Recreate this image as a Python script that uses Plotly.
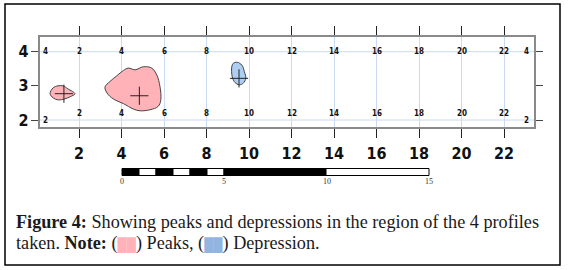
import plotly.graph_objects as go

# ---------------- data ----------------
peak1_x = [0.64, 0.78, 1.01, 1.25, 1.48, 1.81, 1.58, 1.34, 1.01, 0.78]
peak1_y = [2.77, 2.94, 3.00, 3.00, 2.91, 2.77, 2.68, 2.62, 2.59, 2.65]
peak1_center = (1.29, 2.77)

peak2_x = [3.22, 3.46, 3.77, 4.09, 4.32, 4.64, 5.03, 5.42, 5.66, 5.81, 5.85, 5.73, 5.34, 4.87, 4.56, 4.09, 3.69, 3.38]
peak2_y = [2.96, 3.13, 3.29, 3.45, 3.52, 3.47, 3.56, 3.52, 3.32, 2.98, 2.59, 2.40, 2.30, 2.27, 2.32, 2.48, 2.59, 2.74]
peak2_center = (4.84, 2.71)

dep_x = [9.19, 9.26, 9.45, 9.66, 9.78, 9.85, 9.73, 9.54, 9.34, 9.21]
dep_y = [3.56, 3.66, 3.69, 3.61, 3.42, 3.22, 3.08, 3.03, 3.10, 3.27]
dep_center = (9.53, 3.22)

x_ticks = [2, 4, 6, 8, 10, 12, 14, 16, 18, 20, 22]
y_ticks = [2, 3, 4]
grid_y = [2, 4]
inner_labels = ["2", "4", "6", "8", "10", "12", "14", "16", "18", "20", "22"]

scale_starts = [0, 5/6, 10/6, 15/6, 20/6, 25/6, 5, 10]
scale_widths = [5/6, 5/6, 5/6, 5/6, 5/6, 5/6, 5, 5]
scale_colors = ["black", "white", "black", "white", "black", "white", "black", "white"]
scale_labels = [0, 5, 10, 15]

caption_line1 = "<b>Figure 4:</b> Showing peaks and depressions in the region of the 4 profiles"
caption_line2 = ("taken. <b>Note:</b> (<span style='color:#ffb3b8;font-size:13px'>██</span>) Peaks, "
                 "(<span style='color:#94b4e0;font-size:13px'>██</span>) Depression.")

# ---------------- layout geometry ----------------
W, H = 568, 270
px_l, px_r, py_t, py_b = 39.5, 534, 37, 127
PINK = "#ffb3b8"
BLUE = "#aecdf2"
GRID = "#c9daf2"
LBL_FONT = "DejaVu Sans Condensed, Liberation Sans Narrow, Arial Narrow, sans-serif"

fig = go.Figure()

for xs, ys, col in [(peak1_x, peak1_y, PINK), (peak2_x, peak2_y, PINK), (dep_x, dep_y, BLUE)]:
    fig.add_trace(go.Scatter(x=xs + [xs[0]], y=ys + [ys[0]], mode="lines", fill="toself",
                             fillcolor=col, line=dict(color="#444", width=1, shape="spline"),
                             hoverinfo="skip", showlegend=False))

cx = [peak1_center[0], peak2_center[0], dep_center[0]]
cy = [peak1_center[1], peak2_center[1], dep_center[1]]
fig.add_trace(go.Scatter(x=cx, y=cy, mode="markers",
                         marker=dict(symbol="cross-thin", size=13, line=dict(color="#222", width=1)),
                         showlegend=False, hoverinfo="skip"))

# scale bar on secondary axes
fig.add_trace(go.Bar(y=[0.575] * len(scale_starts), x=scale_widths, base=scale_starts,
                     orientation="h", width=0.22, marker=dict(color=scale_colors, line=dict(color="black", width=1)),
                     xaxis="x2", yaxis="y2", showlegend=False, hoverinfo="skip"))

for v in grid_y:
    fig.add_shape(type="line", xref="x domain", x0=0, x1=1, yref="y", y0=v, y1=v,
                  line=dict(color=GRID, width=1), layer="below")

# inner small labels
ann = []
for xv, t in zip(x_ticks, inner_labels):
    ann.append(dict(x=xv, y=4, text=t, xref="x", yref="y", showarrow=False,
                    font=dict(family=LBL_FONT, size=8, color="#111", weight="bold")))
    ann.append(dict(x=xv, y=2.2, text=t, xref="x", yref="y", showarrow=False,
                    font=dict(family=LBL_FONT, size=8, color="#111", weight="bold")))
for xv, yv, t in [(0.4, 4, "4"), (0.4, 2, "2"), (23.08, 4, "4"), (23.08, 2, "2")]:
    ann.append(dict(x=xv, y=yv, text=t, xref="x", yref="y", showarrow=False,
                    font=dict(family=LBL_FONT, size=8, color="#111", weight="bold")))

for v in scale_labels:
    ann.append(dict(x=v, y=0.3, text=str(v), xref="x2", yref="y2", showarrow=False,
                    font=dict(family="Liberation Serif, serif", size=8, color="#333")))

ann.append(dict(x=14 / W, y=1 - 222 / H, xref="paper", yref="paper", xanchor="left", yanchor="middle",
                text=caption_line1, showarrow=False, align="left",
                font=dict(family="Liberation Serif, serif", size=18.2, color="#1a1a1a")))
ann.append(dict(x=14 / W, y=1 - 243 / H, xref="paper", yref="paper", xanchor="left", yanchor="middle",
                text=caption_line2, showarrow=False, align="left",
                font=dict(family="Liberation Serif, serif", size=18.2, color="#1a1a1a")))

fig.add_shape(type="rect", xref="paper", yref="paper", x0=5 / W, x1=560 / W, y0=1 - 265 / H, y1=1 - 4 / H,
              line=dict(color="black", width=1.5))

xpu = 21.25
x0d = (px_l - 36.5) / xpu
x1d = (px_r - 36.5) / xpu
ypu = 34.15
y_top = 4 + (py_t - 51.7) * -1 / ypu
y_bot = 2 - (py_b - 120) / ypu

s_pu = (429 - 122) / 15
s0 = -(122 - px_l) / s_pu
s1 = (px_r - 122) / s_pu

fig.update_layout(
    width=W, height=H, margin=dict(l=0, r=0, t=0, b=0, autoexpand=False),
    paper_bgcolor="white", plot_bgcolor="white",
    annotations=ann, bargap=0,
    xaxis=dict(domain=[px_l / W, px_r / W], range=[x0d, x1d], tickvals=x_ticks,
               showgrid=True, gridcolor=GRID, gridwidth=1, zeroline=False, automargin=False,
               showline=True, linecolor="#8a8a8a", linewidth=1.5, mirror="ticks",
               ticks="outside", ticklen=9, tickcolor="#222", tickwidth=1,
               ticklabelstandoff=2,
               tickfont=dict(family=LBL_FONT, size=16, color="#111", weight="bold")),
    yaxis=dict(domain=[1 - py_b / H, 1 - py_t / H], range=[y_bot, y_top], tickvals=y_ticks,
               showgrid=False, zeroline=False, automargin=False,
               showline=True, linecolor="#8a8a8a", linewidth=1.5, mirror="ticks",
               ticks="outside", ticklen=7, tickcolor="#444", tickwidth=1,
               ticklabelstandoff=-1,
               tickfont=dict(family=LBL_FONT, size=16, color="#111", weight="bold")),
    xaxis2=dict(domain=[px_l / W, px_r / W], range=[s0, s1], visible=False, anchor="y2", automargin=False),
    yaxis2=dict(domain=[1 - 190 / H, 1 - 160 / H], range=[0, 1], visible=False, anchor="x2", automargin=False),
)

fig.write_html("out.html", config={"displayModeBar": False},
               post_script="document.body.style.margin='0';document.body.style.padding='0';")
